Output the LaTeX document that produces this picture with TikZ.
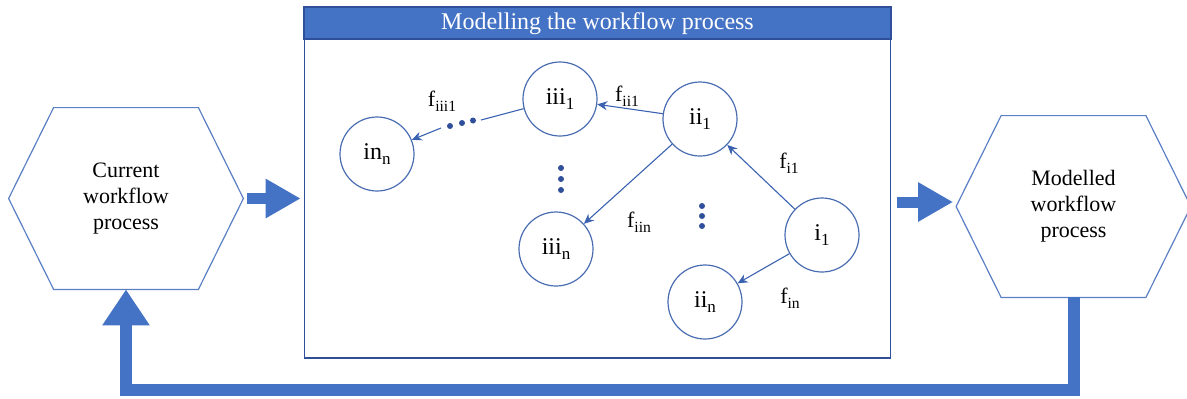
\documentclass[tikz,border=0pt]{standalone}
\usepackage{fontspec}
\setmainfont{Liberation Serif}
\usetikzlibrary{arrows.meta,calc}

\definecolor{frameblue}{HTML}{2F4F9A}
\definecolor{barblue}{HTML}{4472C4}
\definecolor{lineblue}{HTML}{3A62B0}
\definecolor{ringblue}{HTML}{4A6DB2}
\definecolor{hexblue}{HTML}{5B7FC4}

% subscripts for state labels and flow labels
\newcommand{\ssub}[1]{\raisebox{-2.5pt}{\fontsize{8.5}{10}\selectfont #1}}
\newcommand{\fsub}[1]{\raisebox{-2.5pt}{\fontsize{7.8}{9}\selectfont #1}}

\tikzset{
  state/.style={circle, draw=ringblue, line width=0.6pt, minimum size=37pt,
                inner sep=0pt, font=\fontsize{12}{14}\selectfont},
  flow/.style={draw=lineblue, line width=0.55pt, -{Stealth[length=5pt,width=4.5pt]}},
  flowlabel/.style={font=\fontsize{11}{13}\selectfont, inner sep=0pt},
  hexnode/.style={minimum width=117pt, minimum height=90.5pt, inner sep=0pt,
                  align=center, font=\fontsize{11}{13}\selectfont},
  hexline/.style={draw=hexblue, line width=0.6pt},
  blockarrow/.style={draw=barblue, line width=5.5pt,
                     -{Triangle[length=17.5pt,width=18.5pt]}},
  feedback/.style={draw=barblue, line width=6pt,
                   -{Triangle[length=18pt,width=22.5pt]}},
  vdot/.style={circle, fill=frameblue, minimum size=3pt, inner sep=0pt},
}

\begin{document}
\begin{tikzpicture}[x=0.5pt, y=-0.5pt]
\useasboundingbox (0,0) rectangle (1187,398);

% modelling frame with its title bar
\node[draw=frameblue, line width=0.8pt, minimum width=293pt, minimum height=175pt,
      inner sep=0pt] (box) at (597.5,183) {};
\filldraw[fill=barblue, draw=frameblue, line width=0.8pt] (box.north west) rectangle (891,39);
\node[text=white, font=\fontsize{12}{14}\selectfont] (title) at (597.5,23.5) {Modelling the workflow process};

% hexagons
\node[hexnode] (lh) at (126,198.5) {Current\\workflow\\process};
\draw[hexline] (lh.west) -- ([xshift=22.5pt]lh.north west) -- ([xshift=-22.5pt]lh.north east)
  -- (lh.east) -- ([xshift=-22.5pt]lh.south east) -- ([xshift=22.5pt]lh.south west) -- cycle;

\node[hexnode] (rh) at (1073.5,206.5) {Modelled\\workflow\\process};
\draw[hexline] (rh.west) -- ([xshift=22.5pt]rh.north west) -- ([xshift=-22.5pt]rh.north east)
  -- (rh.east) -- ([xshift=-22.5pt]rh.south east) -- ([xshift=22.5pt]rh.south west) -- cycle;

% block arrows between the stages
\draw[blockarrow] ([xshift=2pt]lh.east) -- ([xshift=-1.5pt]lh.east -| box.west);
\draw[blockarrow] ([xshift=3pt,yshift=2.25pt]box.east |- rh.west) -- ([xshift=-1.5pt,yshift=2.25pt]rh.west);

% feedback loop
\draw[feedback] (rh.south) -- (1073.5,390) -| (lh.south);

% states
\node[state] (inn)  at (377,154) {in\ssub{n}};
\node[state] (iii1) at (560,99)  {iii\ssub{1}};
\node[state] (ii1)  at (700,119) {ii\ssub{1}};
\node[state] (i1)   at (822,235) {i\ssub{1}};
\node[state] (iin)  at (705,302) {ii\ssub{n}};
\node[state] (iiin) at (556,249) {iii\ssub{n}};

% transitions
\draw[flow] (ii1) -- (iii1);
\draw[flow] (i1) -- (ii1);
\draw[flow] (ii1) -- (iiin);
\draw[flow] (i1) -- (iin);

% elided chain from iii_1 to in_n
\coordinate (gapA) at (481,120);
\coordinate (gapB) at (441,128);
\draw[draw=lineblue, line width=0.55pt] (iii1) -- (gapA);
\draw[flow] (gapB) -- (inn);
\node[vdot] (h1) at (450,126) {};
\node[vdot] (h2) at (462,123) {};
\node[vdot] (h3) at (473,120.5) {};

% vertical ellipses
\node[vdot] (a1) at (561,168) {};
\node[vdot] (a2) at (561,179) {};
\node[vdot] (a3) at (561,190) {};
\node[vdot] (b1) at (702,206) {};
\node[vdot] (b2) at (702,216) {};
\node[vdot] (b3) at (702,226) {};

% flow labels
\node[flowlabel] (l1) at (442,101) {f\fsub{iii1}};
\node[flowlabel] (l2) at (627,96)  {f\fsub{ii1}};
\node[flowlabel] (l3) at (789,163) {f\fsub{i1}};
\node[flowlabel] (l4) at (639,222) {f\fsub{iin}};
\node[flowlabel] (l5) at (790,298) {f\fsub{in}};
\end{tikzpicture}
\end{document}
